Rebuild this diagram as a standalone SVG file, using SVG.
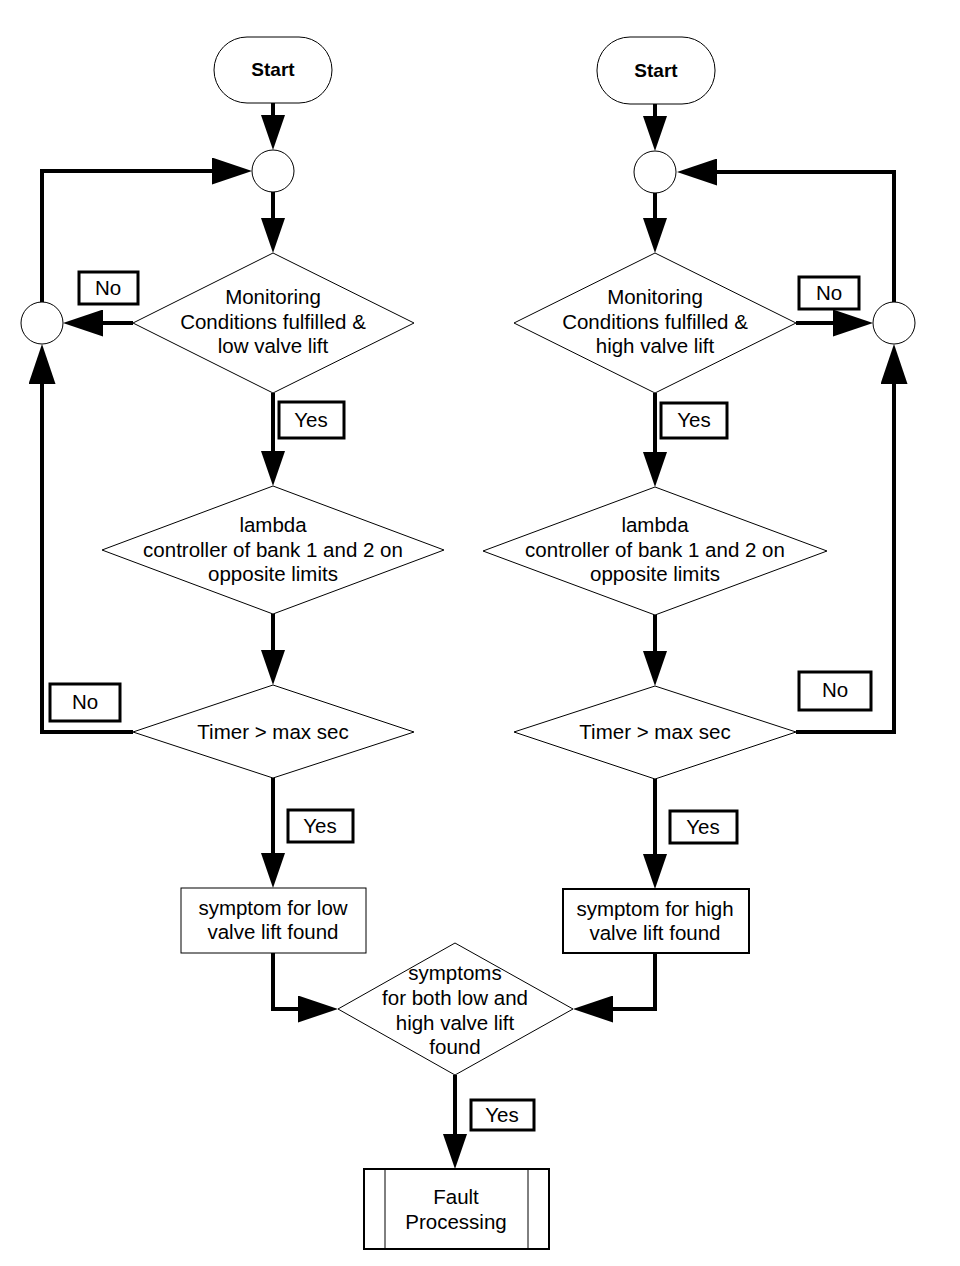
<svg xmlns="http://www.w3.org/2000/svg" width="960" height="1266" viewBox="0 0 960 1266">
<style>
.bg{fill:#fff}
.sh{fill:#fff;stroke:#000;stroke-width:1}
.sh2{fill:#fff;stroke:#000;stroke-width:2}
.lb{fill:#fff;stroke:#000;stroke-width:3}
.cn{fill:none;stroke:#000;stroke-width:4}
text{font-family:"Liberation Sans",Arial,sans-serif;font-size:20.5px;fill:#000;text-anchor:middle}
.b{font-weight:bold;font-size:19px}
</style>
<defs>
<marker id="ah" markerUnits="userSpaceOnUse" viewBox="0 0 35 24" refX="29" refY="12" markerWidth="35" markerHeight="24" orient="auto"><path d="M0,0 L35,12 L0,24 Z" fill="#000"/></marker>
<marker id="ah2" markerUnits="userSpaceOnUse" viewBox="0 0 40 27" refX="34" refY="13.5" markerWidth="40" markerHeight="27" orient="auto"><path d="M0,0 L40,13.5 L0,27 Z" fill="#000"/></marker>
</defs>
<rect class="bg" x="0" y="0" width="960" height="1266"/>
<g id="connectors">
<path class="cn" d="M273,103 V144" marker-end="url(#ah)"/>
<path class="cn" d="M273,192 V247" marker-end="url(#ah)"/>
<path class="cn" d="M273,393 V480" marker-end="url(#ah)"/>
<path class="cn" d="M273,614 V679" marker-end="url(#ah)"/>
<path class="cn" d="M273,778 V882" marker-end="url(#ah)"/>
<path class="cn" d="M133,323 H69" marker-end="url(#ah2)"/>
<path class="cn" d="M42,302 V171 H246" marker-end="url(#ah2)"/>
<path class="cn" d="M133,732 H42 V350" marker-end="url(#ah2)"/>
<path class="cn" d="M273,953 V1009 H332" marker-end="url(#ah2)"/>
<path class="cn" d="M655,104 V145" marker-end="url(#ah)"/>
<path class="cn" d="M655,193 V247" marker-end="url(#ah)"/>
<path class="cn" d="M655,393 V481" marker-end="url(#ah)"/>
<path class="cn" d="M655,615 V680" marker-end="url(#ah)"/>
<path class="cn" d="M655,779 V883" marker-end="url(#ah)"/>
<path class="cn" d="M796,323 H867" marker-end="url(#ah2)"/>
<path class="cn" d="M894,302 V172 H683" marker-end="url(#ah2)"/>
<path class="cn" d="M796,732 H894 V350" marker-end="url(#ah2)"/>
<path class="cn" d="M655,953 V1009 H579" marker-end="url(#ah2)"/>
<path class="cn" d="M455,1075 V1163" marker-end="url(#ah)"/>
</g>
<g id="start-left"><rect class="sh" x="214" y="37" width="118" height="66" rx="33"/><text class="b" x="273" y="76">Start</text></g>
<g id="junction-left-top"><circle class="sh" cx="273" cy="171" r="21"/></g>
<g id="junction-left-side"><circle class="sh" cx="42" cy="323" r="21"/></g>
<g id="decision-left-monitor"><path class="sh" d="M273,253 L414,323 L273,393 L133,323 Z"/><text x="273" y="304">Monitoring</text><text x="273" y="329">Conditions fulfilled &amp;</text><text x="273" y="353">low valve lift</text></g>
<g id="label-no-left-1"><rect class="lb" x="79" y="272" width="59" height="32"/><text x="108" y="295">No</text></g>
<g id="label-yes-left-1"><rect class="lb" x="279" y="402" width="65" height="36"/><text x="311" y="427">Yes</text></g>
<g id="decision-left-lambda"><path class="sh" d="M273,486 L444,550 L273,614 L102,550 Z"/><text x="273" y="532">lambda</text><text x="273" y="557">controller of bank 1 and 2 on</text><text x="273" y="581">opposite limits</text></g>
<g id="decision-left-timer"><path class="sh" d="M273,685 L414,732 L273,778 L133,732 Z"/><text x="273" y="739">Timer &gt; max sec</text></g>
<g id="label-no-left-2"><rect class="lb" x="50" y="684" width="70" height="37"/><text x="85" y="709">No</text></g>
<g id="label-yes-left-2"><rect class="lb" x="288" y="810" width="65" height="32"/><text x="320" y="833">Yes</text></g>
<g id="process-low"><rect class="sh" x="181" y="888" width="185" height="65"/><text x="273" y="915">symptom for low</text><text x="273" y="939">valve lift found</text></g>
<g id="start-right"><rect class="sh" x="597" y="37" width="118" height="67" rx="33"/><text class="b" x="656" y="77">Start</text></g>
<g id="junction-right-top"><circle class="sh" cx="655" cy="172" r="21"/></g>
<g id="junction-right-side"><circle class="sh" cx="894" cy="323" r="21"/></g>
<g id="decision-right-monitor"><path class="sh" d="M655,253 L796,323 L655,393 L514,323 Z"/><text x="655" y="304">Monitoring</text><text x="655" y="329">Conditions fulfilled &amp;</text><text x="655" y="353">high valve lift</text></g>
<g id="label-no-right-1"><rect class="lb" x="799" y="277" width="60" height="32"/><text x="829" y="300">No</text></g>
<g id="label-yes-right-1"><rect class="lb" x="661" y="403" width="66" height="35"/><text x="694" y="427">Yes</text></g>
<g id="decision-right-lambda"><path class="sh" d="M655,487 L827,551 L655,615 L483,551 Z"/><text x="655" y="532">lambda</text><text x="655" y="557">controller of bank 1 and 2 on</text><text x="655" y="581">opposite limits</text></g>
<g id="decision-right-timer"><path class="sh" d="M655,686 L796,732 L655,779 L514,732 Z"/><text x="655" y="739">Timer &gt; max sec</text></g>
<g id="label-no-right-2"><rect class="lb" x="799" y="672" width="72" height="38"/><text x="835" y="697">No</text></g>
<g id="label-yes-right-2"><rect class="lb" x="670" y="811" width="67" height="32"/><text x="703" y="834">Yes</text></g>
<g id="process-high"><rect class="sh2" x="563" y="889" width="186" height="64"/><text x="655" y="916">symptom for high</text><text x="655" y="940">valve lift found</text></g>
<g id="decision-both"><path class="sh" d="M455,943 L573,1009 L455,1075 L338,1009 Z"/><text x="455" y="980">symptoms</text><text x="455" y="1005">for both low and</text><text x="455" y="1030">high valve lift</text><text x="455" y="1054">found</text></g>
<g id="label-yes-bottom"><rect class="lb" x="471" y="1100" width="63" height="30"/><text x="502" y="1122">Yes</text></g>
<g id="fault-processing"><rect class="sh2" x="364" y="1169" width="185" height="80"/><line x1="385" y1="1169" x2="385" y2="1249" stroke="#000" stroke-width="1"/><line x1="528" y1="1169" x2="528" y2="1249" stroke="#000" stroke-width="1"/><text x="456" y="1204">Fault</text><text x="456" y="1229">Processing</text></g>
</svg>
